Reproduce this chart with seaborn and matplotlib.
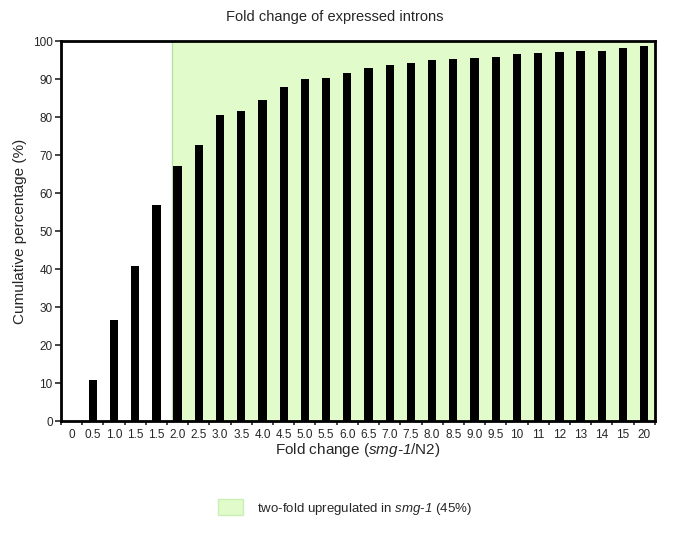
import numpy as np
import pandas as pd
import matplotlib
matplotlib.use("Agg")
import matplotlib.pyplot as plt
import seaborn as sns
from matplotlib.patches import Patch

# datos
bins = ["0", "0.5", "1.0", "1.5", "1.5", "2.0", "2.5", "3.0", "3.5", "4.0",
        "4.5", "5.0", "5.5", "6.0", "6.5", "7.0", "7.5", "8.0", "8.5", "9.0",
        "9.5", "10", "11", "12", "13", "14", "15", "20"]
cum_pct = [0, 10.9, 26.5, 40.9, 56.9, 67.3, 72.6, 80.5, 81.8, 84.7,
           87.9, 90.0, 90.5, 91.8, 93.1, 93.7, 94.3, 95.0, 95.4, 95.7,
           95.9, 96.6, 96.9, 97.2, 97.5, 97.5, 98.2, 98.9]
first_up = 5  # primer bin de dos veces (2.0)

df = pd.DataFrame({"pos": range(len(bins)), "bin": bins, "pct": cum_pct})

sns.set_style("white")
plt.rcParams["font.family"] = ["Liberation Sans", "DejaVu Sans"]
plt.rcParams["mathtext.fontset"] = "custom"
plt.rcParams["mathtext.rm"] = "Liberation Sans:italic"
plt.rcParams["mathtext.it"] = "Liberation Sans:italic"

fig = plt.figure(figsize=(6.85, 5.34), dpi=100)
ax = fig.add_axes([0.089, 0.2116, 0.867, 0.7107])

green = "#e1fcca"
ax.axvspan(first_up - 0.28, len(bins) - 0.5, color=green, zorder=0, lw=0)
ax.axvline(first_up - 0.28, color="#b5e3a0", lw=1, zorder=0.5)

sns.barplot(data=df, x="pos", y="pct", color="black", saturation=1,
            width=0.39, linewidth=0, ax=ax, zorder=2)

ax.set_xlim(-0.5, len(bins) - 0.5)
ax.set_ylim(0, 100)
ax.set_yticks(np.arange(0, 101, 10))
ax.tick_params(axis="y", labelsize=8.5, length=4, width=1.2, direction="out",
               left=True, pad=2)

# ticks en los bordes, etiquetas al centro
ax.set_xticks(np.arange(-0.5, len(bins), 1))
ax.set_xticklabels([])
ax.set_xticks(np.arange(len(bins)), minor=True)
ax.set_xticklabels(bins, minor=True)
ax.tick_params(axis="x", which="major", length=3, width=1.2, direction="out",
               bottom=True)
ax.tick_params(axis="x", which="minor", length=0, labelsize=8.5, pad=6)

for s in ax.spines.values():
    s.set_visible(True)
    s.set_color("black")
    s.set_linewidth(2)

ax.set_xlabel(r"Fold change ($\mathrm{smg\text{-}1}$/N2)", fontsize=11, labelpad=0)
ax.set_ylabel("Cumulative percentage (%)", fontsize=11, labelpad=4)
fig.text(0.488, 0.969, "Fold change of expressed introns", ha="center",
         va="center", fontsize=10.5)

handle = Patch(facecolor=green, edgecolor="#c9efb4", lw=1)
fig.legend([handle], [r"two-fold upregulated in $\mathrm{smg\text{-}1}$ (45%)"],
           loc="center", bbox_to_anchor=(0.503, 0.049), frameon=False,
           fontsize=9.5, handlelength=1.9, handleheight=1.5, handletextpad=1.05)

fig.savefig("out.png", dpi=100)
